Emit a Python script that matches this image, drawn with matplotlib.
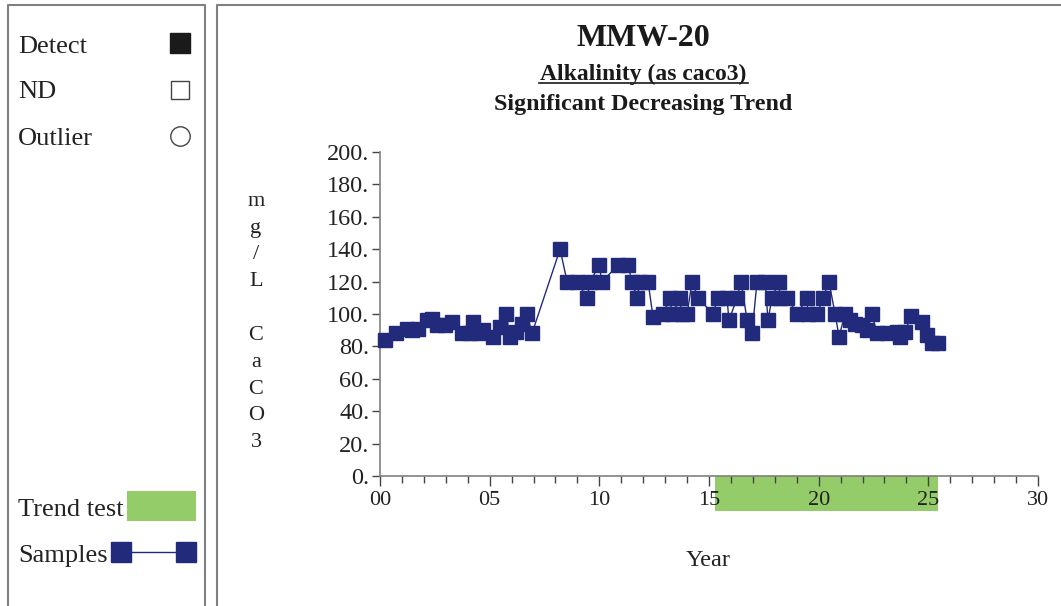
import matplotlib
matplotlib.use("Agg")
import matplotlib.pyplot as plt
from matplotlib.patches import Rectangle
from matplotlib.lines import Line2D
from matplotlib.ticker import MultipleLocator, FixedLocator

plt.rcParams['font.family'] = ['Liberation Serif', 'DejaVu Serif']

# ---- data ----
years = [0.23, 0.73, 1.23, 1.46, 1.73, 2.14, 2.37, 2.60, 2.96, 3.28, 3.74, 4.10, 4.24, 4.47,
         4.70, 5.15, 5.47, 5.75, 5.93, 6.20, 6.48, 6.70, 6.93, 8.21, 8.53, 8.98, 9.44, 9.58,
         9.99, 10.12, 10.85, 11.31, 11.49, 11.72, 11.86, 12.22, 12.45, 12.90, 13.22, 13.32,
         13.68, 13.75, 14.00, 14.23, 14.50, 15.18, 15.41, 15.82, 15.91, 16.28, 16.46, 16.74,
         16.96, 17.19, 17.56, 17.69, 17.87, 18.19, 18.24, 18.56, 19.02, 19.47, 19.50, 19.93,
         20.20, 20.47, 20.75, 20.93, 21.20, 21.43, 21.66, 21.98, 22.21, 22.43, 22.66, 23.12,
         23.58, 23.71, 23.94, 24.21, 24.71, 24.94, 25.17, 25.44]
alkalinity = [84, 88, 91, 90, 91, 96, 97, 93, 93, 95, 88, 88, 95, 88,
              90, 86, 92, 100, 86, 89, 94, 100, 88, 140, 120, 120, 110, 120,
              130, 120, 130, 130, 120, 110, 120, 120, 98, 100, 110, 100,
              110, 100, 100, 120, 110, 100, 110, 110, 96, 110, 120, 96,
              88, 120, 120, 96, 110, 120, 110, 110, 100, 110, 100, 100,
              110, 120, 100, 86, 100, 96, 94, 93, 90, 100, 88, 88,
              89, 86, 89, 99, 95, 87, 82, 82]
trend_start, trend_end = 15.28, 25.44
xtick_vals = [0, 5, 10, 15, 20, 25, 30]
xtick_labels = ["00", "05", "10", "15", "20", "25", "30"]
ytick_vals = [0, 20, 40, 60, 80, 100, 120, 140, 160, 180, 200]
ytick_labels = ["0.", "20.", "40.", "60.", "80.", "100.", "120.", "140.", "160.", "180.", "200."]

NAVY = '#222B7B'
GREEN = '#93CC69'
GRAY = '#808080'
TXT = '#222222'

W, H = 1061, 606
fig = plt.figure(figsize=(W / 100, H / 100), dpi=100)


def fx(px):
    return px / W


def fy(py):
    return 1 - py / H


# ---- panel boxes ----
for (x0, x1) in [(8, 205), (217, 1065)]:
    fig.add_artist(Line2D([fx(x0), fx(x0), fx(x1), fx(x1)], [fy(620), fy(5), fy(5), fy(620)],
                          transform=fig.transFigure, color=GRAY, lw=1.5))

# ---- legend panel ----
leg_fs = 19
fig.text(fx(18), fy(47), "Detect", fontsize=leg_fs, va='center', ha='left', color=TXT)
fig.text(fx(18), fy(92), "ND", fontsize=leg_fs, va='center', ha='left', color=TXT)
fig.text(fx(18), fy(139), "Outlier", fontsize=leg_fs, va='center', ha='left', color=TXT)
fig.add_artist(Rectangle((fx(170), fy(53)), fx(20), 20 / H, transform=fig.transFigure,
                         facecolor='#1a1a1a', edgecolor='#1a1a1a', lw=1))
fig.add_artist(Rectangle((fx(171), fy(99)), fx(18), 18 / H, transform=fig.transFigure,
                         facecolor='white', edgecolor='#444444', lw=1))
fig.add_artist(Line2D([fx(180)], [fy(136)], transform=fig.transFigure, marker='o',
                      markersize=14, markerfacecolor='white', markeredgecolor='#444444',
                      markeredgewidth=1, linestyle='none'))

fig.text(fx(18), fy(510), "Trend test", fontsize=leg_fs, va='center', ha='left', color=TXT)
fig.add_artist(Rectangle((fx(127), fy(521)), fx(69), 30 / H, transform=fig.transFigure,
                         facecolor=GREEN, edgecolor='none'))
fig.text(fx(18), fy(556), "Samples", fontsize=leg_fs, va='center', ha='left', color=TXT)
fig.add_artist(Line2D([fx(121), fx(186)], [fy(552), fy(552)], transform=fig.transFigure,
                      color=NAVY, lw=1))
for cx in (121, 186):
    fig.add_artist(Line2D([fx(cx)], [fy(552)], transform=fig.transFigure, marker='s',
                          markersize=15, color=NAVY, linestyle='none'))

# ---- titles ----
fig.text(fx(643), fy(39), "MMW-20", fontsize=23, fontweight='bold', ha='center', va='center',
         color='#1a1a1a')
fig.text(fx(643), fy(74), "Alkalinity (as caco3)", fontsize=17, fontweight='bold',
         ha='center', va='center', color='#1a1a1a')
fig.add_artist(Line2D([fx(539), fx(748)], [fy(83), fy(83)], transform=fig.transFigure,
                      color='#1a1a1a', lw=1.2))
fig.text(fx(643), fy(105), "Significant Decreasing Trend", fontsize=17.3, fontweight='bold',
         ha='center', va='center', color='#1a1a1a')

# ---- y label (stacked) and x label ----
fig.text(fx(256), fy(322), "m\ng\n/\nL\n\nC\na\nC\nO\n3", fontsize=16, ha='center',
         va='center', multialignment='center', linespacing=1.56, color=TXT)
fig.text(fx(708), fy(561), "Year", fontsize=17.5, ha='center', va='center', color=TXT)

# ---- main axes ----
ax = fig.add_axes([fx(380), fy(476), fx(1038) - fx(380), (476 - 152) / H])
ax.set_xlim(0, 30)
ax.set_ylim(0, 200)
ax.plot(years, alkalinity, color=NAVY, lw=1, marker='s', markersize=9.5,
        markerfacecolor=NAVY, markeredgecolor=NAVY, clip_on=False, zorder=3)

ax.add_patch(Rectangle((trend_start, -0.108), trend_end - trend_start, 0.108,
                       transform=ax.get_xaxis_transform(), facecolor=GREEN,
                       edgecolor='none', clip_on=False, zorder=1))

for s in ['top', 'right']:
    ax.spines[s].set_visible(False)
for s in ['left', 'bottom']:
    ax.spines[s].set_color(GRAY)
    ax.spines[s].set_linewidth(1.2)

ax.xaxis.set_major_locator(FixedLocator(xtick_vals))
ax.set_xticklabels(xtick_labels)
ax.xaxis.set_minor_locator(MultipleLocator(1))
ax.yaxis.set_major_locator(FixedLocator(ytick_vals))
ax.set_yticklabels(ytick_labels)
ax.tick_params(axis='x', which='major', direction='out', length=7, width=1, color='#444444',
               labelsize=16, pad=4, labelcolor=TXT)
ax.tick_params(axis='x', which='minor', direction='out', length=5, width=1, color='#444444')
ax.tick_params(axis='y', which='major', direction='out', length=6, width=1, color='#444444',
               labelsize=17.5, pad=1.5, labelcolor=TXT)
ax.set_facecolor('none')

fig.savefig("out.png", dpi=100)
